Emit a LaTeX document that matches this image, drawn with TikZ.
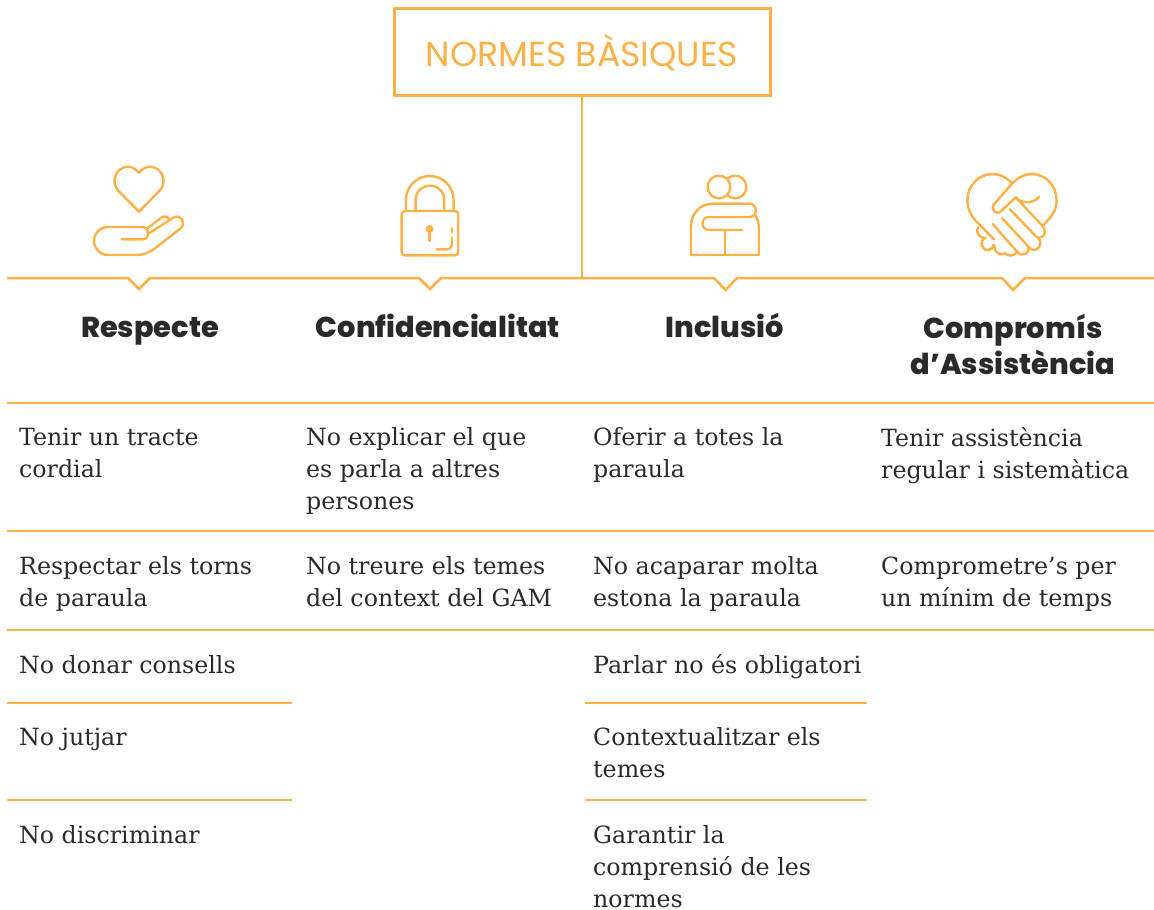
\documentclass[tikz,border=0pt]{standalone}
\usepackage{fontspec}
\setmainfont{DejaVu Serif}
\newfontfamily\titlefont{Poppins}
\newfontfamily\headfont{Poppins ExtraBold}
\definecolor{acc}{HTML}{FDB045}
\definecolor{ink}{HTML}{2B2A29}
\tikzset{
  thin rule/.style={draw=acc,line width=1.1pt},
  thick rule/.style={draw=acc,line width=2.5pt},
  icon/.style={draw=acc,line width=2.4pt,line cap=round,line join=round},
  body/.style={anchor=north west,inner sep=0pt,align=left,text=ink,font=\fontsize{23.7}{32}\selectfont,execute at begin node=\strut},
  head/.style={anchor=north,inner sep=0pt,align=center,text=ink,font=\fontsize{28.8}{36}\selectfont\headfont,execute at begin node=\strut},
  title/.style={draw=acc,line width=3pt,minimum width=376pt,minimum height=87pt,inner sep=0pt,text=acc,text height=29pt,text depth=0pt,font=\fontsize{34.7}{36}\selectfont\titlefont}
}
\begin{document}
\begin{tikzpicture}[x=1pt,y=-1pt]
\useasboundingbox (0,0) rectangle (1154,910);
\node[title] (t) at (582,51.5) {NORMES BÀSIQUES};
\coordinate (j) at (582,278);
\draw[thick rule] (t.south) -- (j);
\coordinate (l0) at (7,278);\coordinate (l1) at (1154,278);
\draw[thick rule,line join=miter] (l0) -- (128,278) -- (139,289) -- (150,278) -- (419,278) -- (430,289) -- (441,278) -- (714,278) -- (725.5,290) -- (737,278) -- (1002,278) -- (1013,290) -- (1025,278) -- (l1);
% rules
\foreach \y/\n in {403/a,531/b,630/c}{
  \coordinate (r\n0) at (7,\y);\coordinate (r\n1) at (1154,\y);
  \draw[thin rule] (r\n0) -- (r\n1);}
\foreach \y/\n in {703/d,800/e}{
  \coordinate (s\n0) at (7,\y);\coordinate (s\n1) at (292,\y);
  \draw[thin rule] (s\n0) -- (s\n1);
  \coordinate (u\n0) at (585,\y);\coordinate (u\n1) at (867,\y);
  \draw[thin rule] (u\n0) -- (u\n1);}
% headings
\node[head] (h1) at (150,311.8) {Respecte};
\node[head] (h2) at (438,311.8) {Confidencialitat};
\node[head] (h3) at (725,311.8) {Inclusió};
\node[head] (h4) at (1013,313.8) {Compromís\\d’Assistència};
% body
\node[body] (a1) at (19,427.6) {Tenir un tracte\\cordial};
\node[body] (a2) at (306,427.6) {No explicar el que\\es parla a altres\\persones};
\node[body] (a3) at (593,427.6) {Oferir a totes la\\paraula};
\node[body] (a4) at (881,427.6) {Tenir assistència\\regular i sistemàtica};
\node[body] (b1) at (19,556.6) {Respectar els torns\\de paraula};
\node[body] (b2) at (306,556.6) {No treure els temes\\del context del GAM};
\node[body] (b3) at (593,556.6) {No acaparar molta\\estona la paraula};
\node[body] (b4) at (881,556.6) {Comprometre’s per\\un mínim de temps};
\node[body] (c1) at (19,650.6) {No donar consells};
\node[body] (c3) at (593,650.6) {Parlar no és obligatori};
\node[body] (d1) at (19,722.6) {No jutjar};
\node[body] (d3) at (593,727.6) {Contextualitzar els\\temes};
\node[body] (e1) at (19,820.6) {No discriminar};
\node[body] (e3) at (593,825.6) {Garantir la\\comprensió de les\\normes};
% icons
\begin{scope}[shift={(60,150)},x=0.3333pt,y=-0.3333pt]
\draw[icon] (237,185) -- (175,122) .. controls (150,95) and (168,50) .. (205,50) .. controls (218,50) and (230,60) .. (237,68) .. controls (244,60) and (256,50) .. (269,50) .. controls (306,50) and (324,95) .. (299,122) -- cycle;
\draw[icon] (185,268) -- (248,268) .. controls (268,268) and (272,238) .. (250,231) -- (145,231) .. controls (120,231) and (102,250) .. (102,272) .. controls (102,295) and (120,315) .. (145,315) -- (230,315) .. controls (252,315) and (268,307) .. (285,295) -- (362,235) .. controls (380,220) and (362,190) .. (340,203) -- (264,252);
\draw[icon] (262,235) -- (300,206) .. controls (310,196) and (322,198) .. (328,208);
\draw[icon] (1025,193) .. controls (1025,187) and (1029,183) .. (1035,183) -- (1185,183) .. controls (1191,183) and (1195,187) .. (1195,193) -- (1195,306) .. controls (1195,312) and (1191,316) .. (1185,316) -- (1035,316) .. controls (1029,316) and (1025,312) .. (1025,306) -- cycle;
\draw[icon] (1038,183) -- (1038,150) .. controls (1038,110) and (1070,78) .. (1109.5,78) .. controls (1149,78) and (1181,110) .. (1181,150) -- (1181,183);
\draw[icon] (1067,183) -- (1067,150) .. controls (1067,126) and (1086,107) .. (1110,107) .. controls (1134,107) and (1153,126) .. (1153,150) -- (1153,183);
\fill[acc] (1109,237) circle[radius=12];
\draw[icon] (1109,237) -- (1109,273);
\draw[icon] (1176,235) -- (1176,247);
\draw[icon] (1176,263) -- (1176,280) .. controls (1176,292) and (1170,298) .. (1160,298) -- (1130,298);
\end{scope}
\begin{scope}[shift={(640,150)},x=0.3333pt,y=-0.3333pt]
\draw[icon] (285,111) circle[radius=34];
\draw[icon,fill=white] (237,111) circle[radius=34];
\draw[icon] (255,240) -- (255,315);
\draw[icon] (345,195) .. controls (354,208) and (357,222) .. (357,235) -- (357,315) -- (153,315) -- (153,230) .. controls (153,190) and (180,161) .. (220,161) -- (328,161) .. controls (354,161) and (354,201) .. (328,201) -- (207,201) .. controls (181,201) and (181,240) .. (207,240) -- (307,240);
\draw[icon] (1062,163) -- (1117,100) .. controls (1095,78) and (1075,72) .. (1058,72) .. controls (1015,72) and (982,108) .. (982,152) .. controls (982,175) and (992,195) .. (1005,210) -- (1062,268);
\draw[icon] (1062,163) .. controls (1050,180) and (1070,198) .. (1085,182) -- (1127,142) .. controls (1145,162) and (1180,162) .. (1198,140);
\draw[icon] (1117,100) .. controls (1135,82) and (1155,72) .. (1175,72) .. controls (1218,72) and (1250,108) .. (1250,152) .. controls (1250,180) and (1235,200) .. (1208,228);
\draw[icon] (1127,142) -- (1208,228) .. controls (1225,248) and (1205,275) .. (1187,258) -- (1110,178);
\draw[icon] (1192,262) .. controls (1215,280) and (1190,312) .. (1170,295) -- (1087,205);
\draw[icon] (1165,292) .. controls (1170,312) and (1145,322) .. (1132,306) -- (1058,222);
\draw[icon] (1015,232) .. controls (1005,250) and (1020,265) .. (1036,264);
\draw[icon] (1036,264) .. controls (1018,272) and (1022,300) .. (1045,300) .. controls (1052,300) and (1058,295) .. (1060,285);
\draw[icon] (1063,285) .. controls (1060,305) and (1080,320) .. (1095,310) .. controls (1105,320) and (1120,318) .. (1130,308);
\end{scope}
\end{tikzpicture}
\end{document}
